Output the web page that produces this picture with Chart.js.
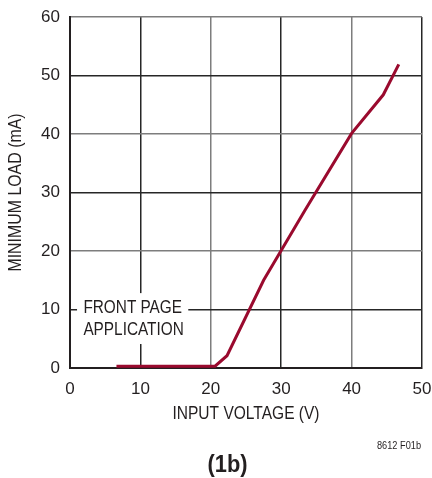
<!DOCTYPE html>
<html>
<head>
<meta charset="utf-8">
<script src="https://cdn.jsdelivr.net/npm/chart.js@4"></script>
<style>
  html, body { margin: 0; padding: 0; background: #fff; }
  canvas { display: block; }
</style>
</head>
<body>
<canvas id="c" width="432" height="478"></canvas>
<script>
// Minimum load vs. input voltage, front page application
const inputVoltage = [6.6, 20.6, 22.3, 27.5, 33.4, 40.0, 44.5, 46.7];
const minimumLoad  = [0.3, 0.3, 2.1, 15.0, 27.0, 40.1, 46.7, 51.9];
const xTicks = [0, 10, 20, 30, 40, 50];
const yTicks = [0, 10, 20, 30, 40, 50, 60];

const SANS = '"Liberation Sans", Arial, Helvetica, sans-serif';
const INK = '#231f20';
const CURVE = '#9a0a2e';

// odd decades dark, even decades lighter grey
function gridColor(ctx) {
  const v = ctx.tick ? ctx.tick.value : 0;
  return (v / 10) % 2 === 1 ? '#262626' : '#7d7d7d';
}

// condensed text: horizontal squeeze of a regular sans face
function squeezedText(ctx, text, x, y, size, align, sx, weight) {
  ctx.save();
  ctx.font = (weight ? weight + ' ' : '') + size + 'px ' + SANS;
  ctx.textAlign = align;
  ctx.textBaseline = 'middle';
  ctx.translate(x, y);
  ctx.scale(sx, 1);
  ctx.fillText(text, 0, 0);
  ctx.restore();
}

const labels = {
  id: 'labels',
  beforeDatasetsDraw(chart) {
    const { ctx, scales: { x, y } } = chart;
    // white patch behind the annotation text
    const l = x.getPixelForValue(1.0), r = x.getPixelForValue(16.8);
    const t = y.getPixelForValue(12.8), b = y.getPixelForValue(4.1);
    ctx.save();
    ctx.fillStyle = '#fff';
    ctx.fillRect(l, t, r - l, b - t);
    ctx.restore();
  },
  afterDraw(chart) {
    const { ctx, chartArea: a, scales: { x, y } } = chart;
    ctx.save();
    ctx.fillStyle = INK;

    squeezedText(ctx, 'FRONT PAGE', x.getPixelForValue(1.9), y.getPixelForValue(10.2), 18.5, 'left', 0.83);
    squeezedText(ctx, 'APPLICATION', x.getPixelForValue(1.9), y.getPixelForValue(6.5), 18.5, 'left', 0.83);

    squeezedText(ctx, 'INPUT VOLTAGE (V)', (a.left + a.right) / 2, 414, 18.5, 'center', 0.84);

    ctx.save();
    ctx.translate(15.5, (a.top + a.bottom) / 2);
    ctx.rotate(-Math.PI / 2);
    squeezedText(ctx, 'MINIMUM LOAD (mA)', 0, 0, 18.5, 'center', 0.86);
    ctx.restore();

    squeezedText(ctx, '8612 F01b', 421, 446, 11.5, 'right', 0.8);
    squeezedText(ctx, '(1b)', 227.5, 466, 23, 'center', 0.95, 'bold');
    ctx.restore();
  }
};

new Chart(document.getElementById('c'), {
  type: 'line',
  data: {
    datasets: [{
      data: inputVoltage.map((v, i) => ({ x: v, y: minimumLoad[i] })),
      borderColor: CURVE,
      borderWidth: 3,
      pointRadius: 0,
      tension: 0,
      fill: false
    }]
  },
  options: {
    responsive: false,
    animation: false,
    events: [],
    layout: { padding: { top: 17, right: 10, left: 0, bottom: 0 } },
    plugins: { legend: { display: false }, tooltip: { enabled: false } },
    scales: {
      x: {
        type: 'linear',
        min: 0, max: 50,
        afterFit(s) { s.height = 110; s.paddingLeft = 0; s.paddingRight = 0; },
        afterBuildTicks(s) { s.ticks = xTicks.map(v => ({ value: v })); },
        ticks: { color: INK, padding: 11, font: { family: SANS, size: 17 }, maxRotation: 0 },
        grid: { drawTicks: false, color: gridColor, lineWidth: 1.5 },
        border: { color: INK, width: 2 }
      },
      y: {
        type: 'linear',
        min: 0, max: 60,
        afterFit(s) { s.width = 70; s.paddingTop = 0; s.paddingBottom = 0; },
        afterBuildTicks(s) { s.ticks = yTicks.map(v => ({ value: v })); },
        ticks: { color: INK, padding: 10, font: { family: SANS, size: 17 } },
        grid: { drawTicks: false, color: gridColor, lineWidth: 1.5 },
        border: { color: INK, width: 2 }
      }
    }
  },
  plugins: [labels]
});
</script>
</body>
</html>
